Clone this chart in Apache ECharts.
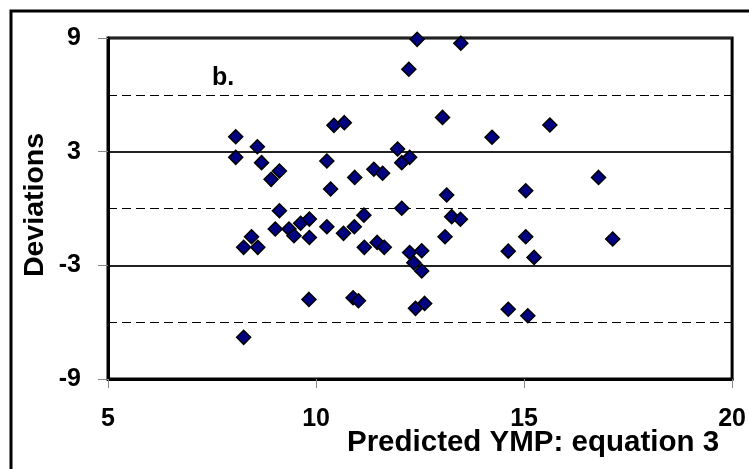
<!DOCTYPE html>
<html>
<head>
<meta charset="utf-8">
<script src="https://cdn.jsdelivr.net/npm/echarts@6/dist/echarts.min.js"></script>
<style>
  html, body { margin: 0; padding: 0; background: #fff; }
  #main { width: 749px; height: 469px; }
</style>
</head>
<body>
<div id="main"></div>
<script>
// values
var predicted = [8.07, 8.07, 8.59, 8.69, 9.12, 8.92, 10.26, 10.35, 10.43, 10.68, 9.12, 8.26, 8.45, 8.60, 9.02, 9.35, 9.47, 9.63, 9.84, 9.84, 10.26, 10.66, 9.83, 8.26, 13.04, 11.96, 12.06, 12.25, 10.93, 11.39, 11.60, 13.14, 12.06, 11.15, 13.26, 13.47, 10.92, 11.16, 11.47, 11.64, 12.25, 12.54, 12.35, 12.54, 13.10, 10.89, 11.02, 12.39, 12.61, 12.43, 13.48, 12.23, 14.23, 15.62, 16.79, 15.04, 14.62, 15.04, 15.24, 17.13, 14.62, 15.09];
var deviations = [3.79, 2.70, 3.26, 2.42, 1.98, 1.54, 2.51, 1.03, 4.39, 4.53, -0.12, -2.05, -1.49, -2.05, -1.08, -1.08, -1.44, -0.78, -0.56, -1.53, -0.96, -1.31, -4.80, -6.80, 4.81, 3.14, 2.42, 2.70, 1.64, 2.07, 1.86, 0.71, 0.01, -0.35, -0.43, -0.57, -0.96, -2.05, -1.79, -2.05, -2.32, -2.23, -2.86, -3.30, -1.49, -4.71, -4.87, -5.27, -5.01, 8.93, 8.72, 7.35, 3.76, 4.41, 1.64, 0.94, -2.25, -1.49, -2.58, -1.61, -5.32, -5.66];
var dashedLevels = [6, 0, -6];

var font = '"Liberation Sans", Arial, sans-serif';
var points = predicted.map(function (x, i) { return [x, deviations[i]]; });

var chart = echarts.init(document.getElementById('main'));
chart.setOption({
  animation: false,
  grid: {
    left: 108, top: 38, right: 8, bottom: 90,
    show: true, borderColor: '#000', borderWidth: 3, backgroundColor: 'transparent'
  },
  xAxis: {
    type: 'value', min: 5, max: 20, interval: 5,
    axisLine: { show: true, onZero: false, lineStyle: { color: '#000', width: 3 } },
    axisTick: { show: true, length: 9, lineStyle: { color: '#888', width: 1 } },
    axisLabel: { color: '#000', fontFamily: font, fontWeight: 'bold', fontSize: 25, margin: 28 },
    splitLine: { show: false }
  },
  yAxis: {
    type: 'value', min: -9, max: 9, interval: 6,
    axisLine: { show: true, onZero: false, lineStyle: { color: '#000', width: 3 } },
    axisTick: { show: true, length: 10, lineStyle: { color: '#888', width: 1 } },
    axisLabel: { color: '#000', fontFamily: font, fontWeight: 'bold', fontSize: 25, margin: 27 },
    splitLine: { show: true, lineStyle: { color: '#222', width: 2 } }
  },
  graphic: [
    { type: 'rect', shape: { x: 11, y: 11, width: 800, height: 500 },
      style: { fill: 'none', stroke: '#000', lineWidth: 3 }, z: 100 },
    { type: 'text', left: 212, top: 66,
      style: { text: 'b.', font: 'bold 25px ' + font, fill: '#000' } },
    { type: 'text', x: 533, y: 443,
      style: { text: 'Predicted YMP: equation 3', font: 'bold 29.5px ' + font, fill: '#000',
        textAlign: 'center', textVerticalAlign: 'middle' } },
    { type: 'text', x: 35, y: 205, rotation: Math.PI / 2,
      style: { text: 'Deviations', font: 'bold 28.5px ' + font, fill: '#000',
        textAlign: 'center', textVerticalAlign: 'middle' } }
  ],
  series: [{
    type: 'scatter',
    data: points,
    symbol: 'diamond',
    symbolSize: 14,
    clip: false,
    itemStyle: { color: '#000080', borderColor: '#000', borderWidth: 1.5, opacity: 1 },
    markLine: {
      silent: true,
      symbol: 'none',
      label: { show: false },
      lineStyle: { color: '#000', width: 1, type: [9, 5] },
      data: dashedLevels.map(function (v) { return { yAxis: v }; })
    },
    z: 5
  }]
});
</script>
</body>
</html>
